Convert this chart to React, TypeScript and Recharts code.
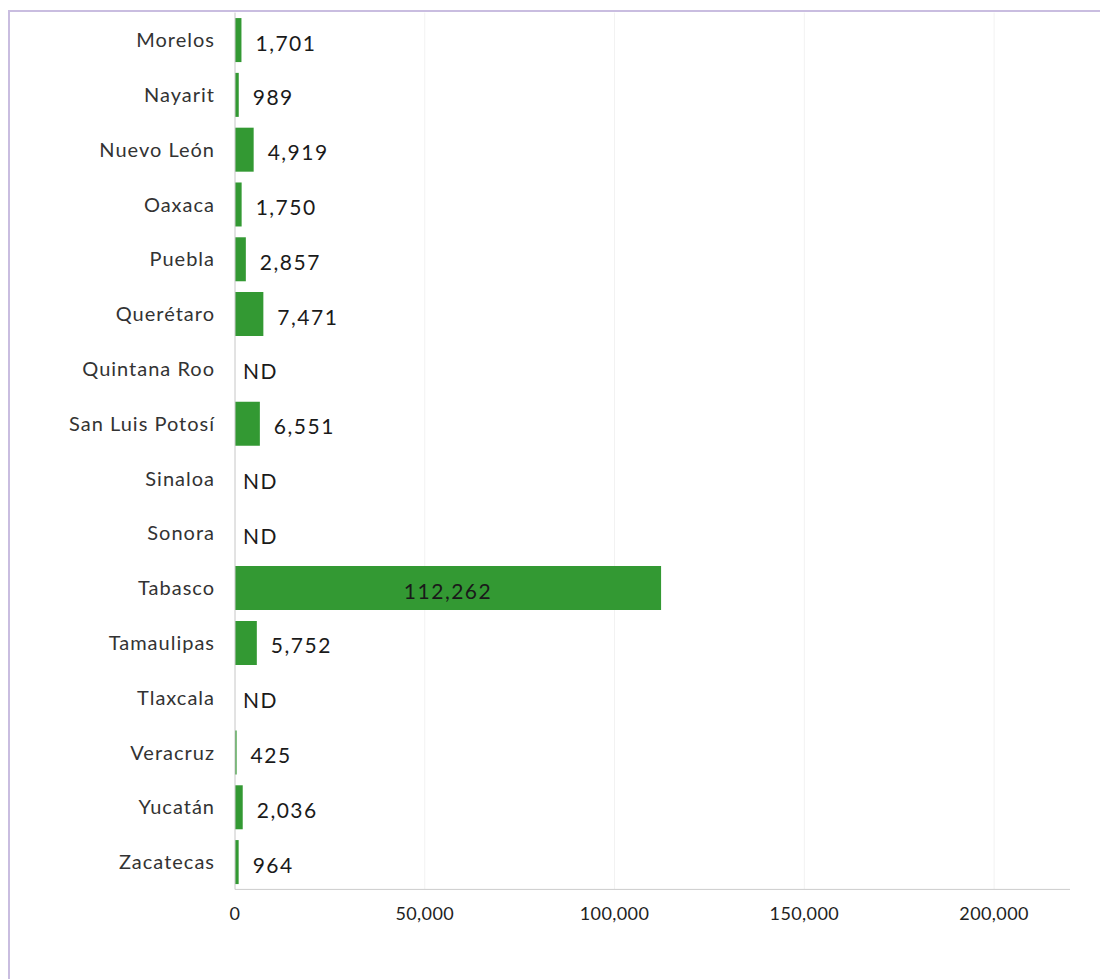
import React from 'react';
import { BarChart, Bar, XAxis, YAxis, CartesianGrid, LabelList, Cell } from 'recharts';

const states = [
  'Morelos', 'Nayarit', 'Nuevo León', 'Oaxaca', 'Puebla', 'Querétaro', 'Quintana Roo', 'San Luis Potosí',
  'Sinaloa', 'Sonora', 'Tabasco', 'Tamaulipas', 'Tlaxcala', 'Veracruz', 'Yucatán', 'Zacatecas',
];
const values: (number | null)[] = [
  1701, 989, 4919, 1750, 2857, 7471, null, 6551, null, null, 112262, 5752, null, 425, 2036, 964,
];
const xTicks = [0, 50000, 100000, 150000, 200000];

const fmt = (v: number) => v.toLocaleString('en-US');

// bars with no data get zero length and an "ND" label
const data = states.map((name, i) => ({
  name,
  value: values[i] ?? 0,
  label: values[i] == null ? 'ND' : fmt(values[i] as number),
}));

const FONT = 'Lato, "Noto Sans", sans-serif';

const BarLabel = (props: any) => {
  const { x, y, width, height, value } = props;
  const cy = Number(y) + Number(height) / 2 + 2;
  const common = { fontSize: 21, fill: '#1a1a1a', fontFamily: FONT, letterSpacing: 1.5, dominantBaseline: 'central' as const };
  if (value === 'ND') {
    return <text x={Number(x) + 8} y={cy} {...common}>{value}</text>;
  }
  if (Number(width) > 150) {
    return <text x={Number(x) + Number(width) / 2} y={cy} textAnchor="middle" {...common}>{value}</text>;
  }
  return <text x={Number(x) + Number(width) + 14} y={cy} {...common}>{value}</text>;
};

export default function App() {
  return (
    <div style={{ position: 'absolute', left: 0, top: 0, width: 1100, height: 979, background: '#fff' }}>
      <div style={{ position: 'absolute', left: 8, top: 10, width: 1092, height: 1.5, background: '#c9bde0' }} />
      <div style={{ position: 'absolute', left: 8, top: 10, width: 1.5, height: 969, background: '#c9bde0' }} />
      <div style={{ position: 'absolute', left: 0, top: 0 }}>
        <BarChart
          width={1100}
          height={979}
          data={data}
          layout="vertical"
          margin={{ top: 12.6, right: 30, bottom: 59.6, left: 10 }}
          barCategoryGap="10%"
        >
          <CartesianGrid horizontal={false} verticalValues={xTicks} stroke="#f2f2f2" />
          <XAxis
            type="number"
            domain={[0, 220000]}
            ticks={xTicks}
            tickFormatter={fmt}
            tickLine={false}
            tickSize={0}
            tickMargin={18}
            stroke="#cccccc"
            tick={{ fill: '#222', fontSize: 18, fontFamily: FONT, letterSpacing: 0.4 }}
          />
          <YAxis
            type="category"
            dataKey="name"
            width={225}
            tickLine={false}
            tickSize={0}
            tickMargin={20}
            stroke="#cccccc"
            interval={0}
            tick={{ fill: '#333', fontSize: 20, fontFamily: FONT, letterSpacing: 1 }}
          />
          <Bar dataKey="value" fill="#339933" minPointSize={1} isAnimationActive={false}>
            {data.map((d) => (
              <Cell key={d.name} fill={d.label === 'ND' ? 'transparent' : '#339933'} />
            ))}
            <LabelList dataKey="label" content={BarLabel} />
          </Bar>
        </BarChart>
      </div>
    </div>
  );
}
